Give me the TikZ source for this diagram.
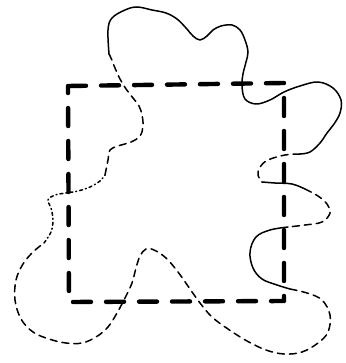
\documentclass[tikz,border=0pt]{standalone}
\usepackage{tikz}

\begin{document}
\begin{tikzpicture}[x=1pt, y=-1pt,
    frame/.style={line width=4.4pt, line cap=round, line join=round, dash pattern=on 18pt off 15pt},
    solidpart/.style={line width=1.5pt, line cap=round, line join=round},
    dashedpart/.style={solidpart, dash pattern=on 7pt off 5pt},
    dottedpart/.style={solidpart, dash pattern=on 3pt off 3pt on 1pt off 3pt}]
    \useasboundingbox (0,0) rectangle (345,363);
    % the dashed square
    \draw[frame] (68,86) -- (284,83) -- (284,301) -- (69,302) -- cycle;
    % the wiggly curve, piece by piece
    \draw[solidpart] plot[smooth, tension=0.6] coordinates {(109,54) (108,30) (112,18) (125,10) (137,7) (152,10) (166,13) (177,19) (186,28) (193,36) (200,40) (207,36) (213,30) (221,26) (232,25) (240,30) (245,40) (248,52) (246,62) (243,74) (242,86) (245,99) (256,104) (270,100) (284,92) (300,86) (318,82) (333,88) (341,100) (340,113) (334,124) (327,133) (320,143) (310,152) (300,154)};
    \draw[dashedpart] plot[smooth, tension=0.6] coordinates {(300,154) (285,155) (268,160) (260,167) (258,175) (262,182)};
    \draw[solidpart] plot[smooth, tension=0.6] coordinates {(262,182) (275,183) (292,184) (305,189)};
    \draw[dashedpart] plot[smooth, tension=0.6] coordinates {(305,189) (318,196) (327,204) (330,213) (322,222) (305,225) (288,227)};
    \draw[solidpart] plot[smooth, tension=0.6] coordinates {(288,227) (270,230) (256,237) (250,252) (253,268) (262,279) (277,285) (290,289)};
    \draw[dashedpart] plot[smooth, tension=0.6] coordinates {(290,289) (307,293) (322,300) (330,315) (328,332) (318,343) (302,352) (284,354) (266,350) (247,341) (228,329) (212,317) (200,303) (190,289) (178,272) (166,258) (154,250) (146,249) (140,256) (136,268) (132,283) (125,298) (117,313) (108,327) (96,337) (82,343) (66,343) (49,339) (33,332) (21,319) (15,300) (16,280) (23,264) (33,252) (44,243)};
    \draw[dottedpart] plot[smooth, tension=0.6] coordinates {(44,243) (51,232) (53,220) (51,208) (48,200) (55,195) (66,193) (78,191) (90,187) (100,181) (105,175)};
    \draw[dashedpart] plot[smooth, tension=0.6] coordinates {(105,175) (108,160) (110,150) (118,146) (131,142) (140,136) (143,126) (142,115) (139,106) (133,98) (126,89) (120,79) (115,68) (111,58) (109,54)};
\end{tikzpicture}
\end{document}
